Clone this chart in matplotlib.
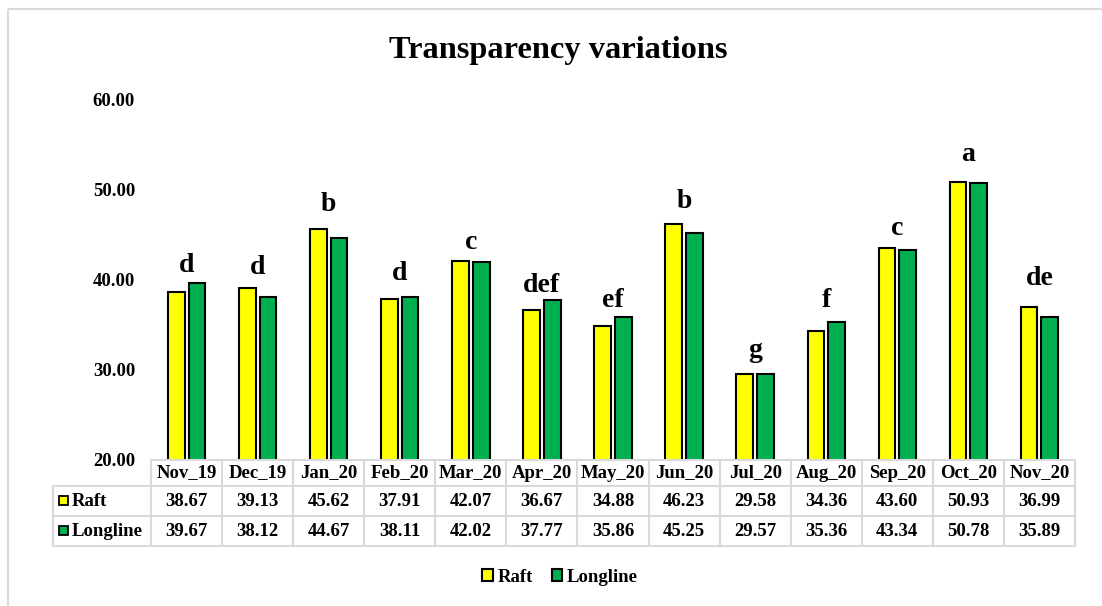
import numpy as np
import matplotlib
matplotlib.use('Agg')
import matplotlib.pyplot as plt
import matplotlib.transforms as mtrans
from matplotlib.patches import Rectangle
from matplotlib.lines import Line2D

# dados
meses = ['Nov_19', 'Dec_19', 'Jan_20', 'Feb_20', 'Mar_20', 'Apr_20', 'May_20',
         'Jun_20', 'Jul_20', 'Aug_20', 'Sep_20', 'Oct_20', 'Nov_20']
raft = [38.67, 39.13, 45.62, 37.91, 42.07, 36.67, 34.88, 46.23, 29.58, 34.36, 43.60, 50.93, 36.99]
longline = [39.67, 38.12, 44.67, 38.11, 42.02, 37.77, 35.86, 45.25, 29.57, 35.36, 43.34, 50.78, 35.89]
letras = ['d', 'd', 'b', 'd', 'c', 'def', 'ef', 'b', 'g', 'f', 'c', 'a', 'de']
# distancia da letra acima da barra mais alta (posto a mao no original)
folga = [1.25, 1.55, 2.05, 1.9, 1.35, 0.9, 1.15, 1.75, 1.85, 1.65, 1.4, 2.3, 2.45]
series = ['Raft', 'Longline']
cores = ['#FFFF00', '#00B050']

plt.rcParams['font.family'] = 'Liberation Serif'
plt.rcParams['font.weight'] = 'bold'

W, H = 1102, 606
fig = plt.figure(figsize=(W / 100, H / 100), dpi=100)
# transformacao em pixels (y para baixo)
pix = mtrans.Affine2D().scale(1 / W, -1 / H).translate(0, 1) + fig.transFigure

ax = fig.add_axes([151 / W, 1 - 460 / H, 924 / W, 360 / H])
x = np.arange(len(meses))
w = 0.235
ax.bar(x - w / 2 - 0.028, raft, w, color=cores[0], edgecolor='black', linewidth=1.5, label='Raft')
ax.bar(x + w / 2 + 0.028, longline, w, color=cores[1], edgecolor='black', linewidth=1.5, label='Longline')
ax.set_xlim(-0.5, len(meses) - 0.5)
ax.set_ylim(20, 60)
for s in ax.spines.values():
    s.set_visible(False)
ax.set_xticks([])
ax.set_yticks([20, 30, 40, 50, 60])
ax.set_yticklabels(['%.2f' % v for v in [20, 30, 40, 50, 60]])
ax.tick_params(axis='y', length=0, pad=11.5, labelsize=13.5)

for i, letra in enumerate(letras):
    ax.text(i, max(raft[i], longline[i]) + folga[i], letra, ha='center', va='baseline', fontsize=20)

fig.text(558 / W, 1 - 58 / H, 'Transparency variations', ha='center', va='baseline', fontsize=23.3)

# tabela de dados
grid = '#D9D9D9'
tr = mtrans.blended_transform_factory(ax.transData, pix)
n = len(meses)
ax.add_line(Line2D([-0.5, n - 0.5], [460, 460], transform=tr, color=grid, lw=1.5, clip_on=False))
for yy in [486, 516, 546]:
    ax.add_line(Line2D([-0.5, n - 0.5], [yy, yy], transform=tr, color=grid, lw=1.5, clip_on=False))
    fig.add_artist(Line2D([53, 151], [yy, yy], transform=pix, color=grid, lw=1.5))
fig.add_artist(Line2D([53, 53], [486, 546], transform=pix, color=grid, lw=1.5))
for i in range(n + 1):
    ax.add_line(Line2D([i - 0.5, i - 0.5], [460, 546], transform=tr, color=grid, lw=1.5, clip_on=False))

for i, m in enumerate(meses):
    ax.text(i, 473, m, transform=tr, ha='center', va='center', fontsize=13.5, clip_on=False)
    ax.text(i, 501, '%.2f' % raft[i], transform=tr, ha='center', va='center', fontsize=13.5, clip_on=False)
    ax.text(i, 531, '%.2f' % longline[i], transform=tr, ha='center', va='center', fontsize=13.5, clip_on=False)

for nome, cor, yy in zip(series, cores, [501, 531]):
    fig.add_artist(Rectangle((59, yy - 5), 9, 9, transform=pix, facecolor=cor, edgecolor='black', lw=1.3))
    fig.text(72 / W, 1 - yy / H, nome, ha='left', va='center', fontsize=13.5)

# legenda embaixo
fig.legend(loc='center', bbox_to_anchor=(560 / W, 1 - 577 / H), ncol=2, frameon=False,
           fontsize=13.5, handlelength=0.55, handleheight=0.55, handletextpad=0.25, columnspacing=1.0)

# borda externa
fig.add_artist(Rectangle((8, 9), 1200, 700, transform=pix, facecolor='none', edgecolor=grid, lw=1.5))

fig.savefig('out.png', dpi=100)
